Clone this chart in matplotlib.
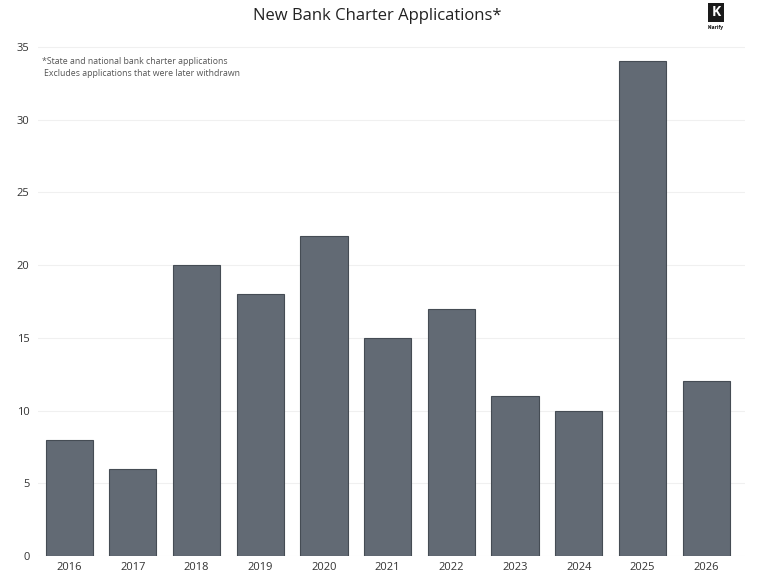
import matplotlib.pyplot as plt
from matplotlib.patches import Rectangle

years = ["2016", "2017", "2018", "2019", "2020", "2021", "2022", "2023", "2024", "2025", "2026"]
applications = [8, 6, 20, 18, 22, 15, 17, 11, 10, 34, 12]
yticks = [0, 5, 10, 15, 20, 25, 30, 35]

plt.rcParams['font.family'] = ['Open Sans', 'DejaVu Sans']

fig = plt.figure(figsize=(7.68, 5.8), dpi=100)
ax = fig.add_axes([38/768, 24/580, (745-38)/768, (556-44)/580])

x = range(len(years))
ax.bar(x, applications, width=0.74, color="#626a74", edgecolor="#454c54", linewidth=0.8, zorder=2)

ax.set_xlim(-0.49, 10.61)
ax.set_ylim(0, 35.2)
ax.set_xticks(list(x))
ax.set_xticklabels(years, fontsize=8, color="#333333")
ax.set_yticks(yticks)
ax.set_yticklabels([str(v) for v in yticks], fontsize=8, color="#333333")
ax.tick_params(length=0, pad=6)
ax.tick_params(axis="x", pad=4)
ax.grid(axis="y", color="#f0f0f0", linewidth=0.8, zorder=0)
for s in ax.spines.values():
    s.set_visible(False)

fig.text(377/768, 1 - 16/580, "New Bank Charter Applications*", ha="center", va="center",
         fontsize=12, color="#222222")
fig.text(42/768, 1 - 62/580, "*State and national bank charter applications", ha="left", va="center",
         fontsize=6.3, color="#555555")
fig.text(44/768, 1 - 74/580, "Excludes applications that were later withdrawn", ha="left", va="center",
         fontsize=6.3, color="#555555")

# logo
fig.patches.append(Rectangle((708/768, 1 - 22/580), 16/768, 19/580, transform=fig.transFigure,
                             facecolor="#1a1a1a", edgecolor="none"))
fig.text(716/768, 1 - 12.5/580, "K", ha="center", va="center", fontsize=10, color="white", weight="bold")
fig.text(716/768, 1 - 27/580, "Klarify", ha="center", va="center", fontsize=3.5, color="#111111", weight="bold")

fig.savefig("out.png", dpi=100, facecolor="white")
